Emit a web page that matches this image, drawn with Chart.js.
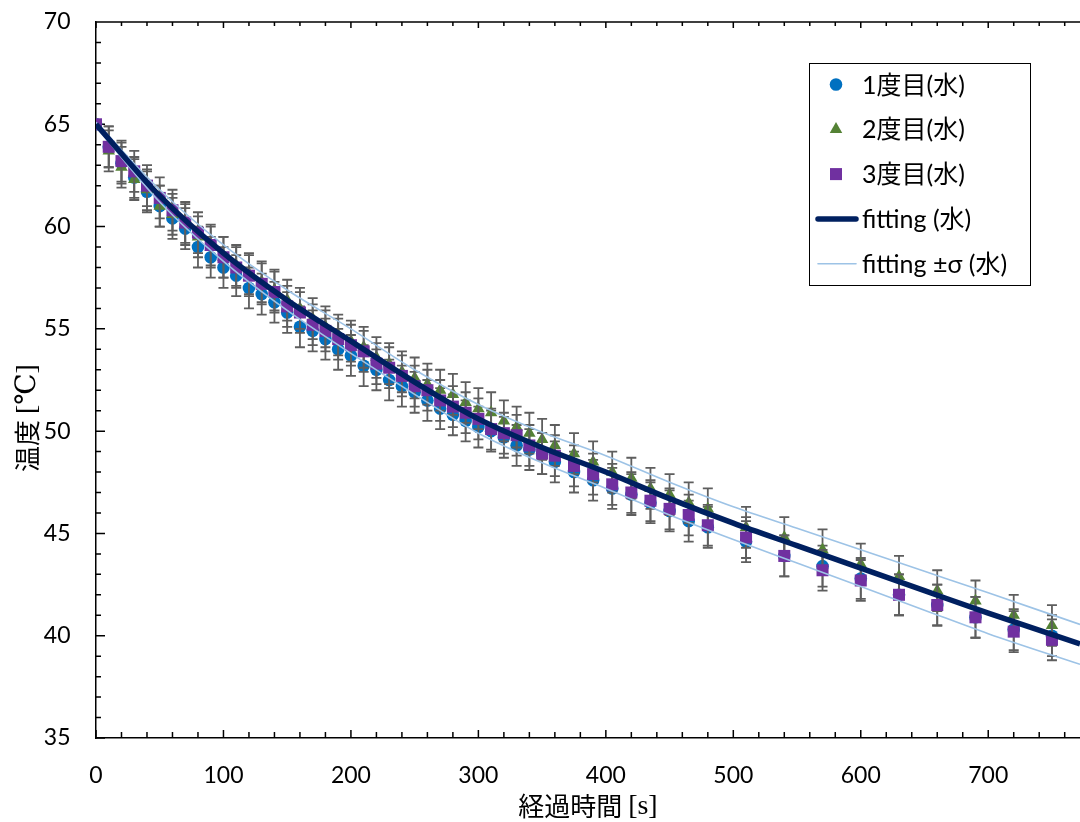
<!DOCTYPE html>
<html>
<head>
<meta charset="utf-8">
<script src="https://cdn.jsdelivr.net/npm/chart.js@4.4.1/dist/chart.umd.min.js"></script>
<style>
  body { margin: 0; background: #fff; }
</style>
</head>
<body>
<canvas id="myChart" width="1080" height="822"></canvas>
<script>
// elapsed time of each reading [s]
const times = [0, 10, 20, 30, 40, 50, 60, 70, 80, 90, 100, 110, 120, 130, 140, 150, 160, 170, 180, 190,
  200, 210, 220, 230, 240, 250, 260, 270, 280, 290, 300, 310, 320, 330, 340, 350, 360,
  375, 390, 405, 420, 435, 450, 465, 480, 510, 540, 570, 600, 630, 660, 690, 720, 750];

// temperature readings [℃]
const run1 = [65.0, 63.9, 63.1, 62.4, 61.7, 61.0, 60.4, 59.9, 59.0, 58.5, 58.0, 57.6, 57.0, 56.7, 56.3, 55.8, 55.1, 54.9, 54.5, 54.0,
  53.7, 53.2, 53.0, 52.5, 52.2, 51.9, 51.5, 51.1, 50.8, 50.5, 50.2, 50.0, 49.7, 49.3, 49.1, 48.9, 48.5,
  48.0, 47.6, 47.2, 46.9, 46.5, 46.1, 45.6, 45.3, 44.6, 43.9, 43.4, 42.8, 42.0, 41.5, 40.9, 40.3, 40.0];
const run2 = [65.0, 63.7, 62.9, 62.3, 61.8, 61.0, 60.6, 60.1, 59.5, 59.0, 58.5, 58.1, 57.7, 57.3, 56.9, 56.4, 56.0, 55.5, 55.1, 54.7,
  54.4, 54.1, 53.6, 53.3, 52.9, 52.6, 52.3, 52.0, 51.8, 51.4, 51.1, 50.9, 50.5, 50.2, 49.9, 49.6, 49.3,
  48.9, 48.5, 48.0, 47.7, 47.2, 46.9, 46.5, 46.2, 45.3, 44.8, 44.2, 43.5, 42.9, 42.2, 41.7, 41.0, 40.5];
const run3 = [65.0, 63.9, 63.2, 62.7, 62.0, 61.4, 60.8, 60.2, 59.7, 59.1, 58.5, 58.0, 57.6, 57.2, 56.8, 56.1, 55.8, 55.2, 54.9, 54.5,
  54.2, 53.9, 53.3, 53.1, 52.7, 52.2, 52.0, 51.5, 51.2, 50.9, 50.6, 50.1, 49.9, 49.8, 49.3, 48.9, 48.8,
  48.3, 47.9, 47.4, 47.0, 46.6, 46.2, 45.9, 45.4, 44.8, 43.9, 43.2, 42.7, 42.0, 41.5, 40.9, 40.2, 39.8];
const errorBar = 1.0;     // ± ℃
const errorFrom = 10;     // the starting point has no bar

// fitting curve and its ±σ band
const fitTimes = [0, 50, 100, 150, 200, 250, 300, 350, 400, 450, 500, 550, 600, 650, 700, 772];
const fitLine  = [65.0, 61.5, 58.7, 56.4, 54.4, 52.4, 50.6, 49.2, 48.0, 46.7, 45.5, 44.4, 43.3, 42.2, 41.1, 39.6];
const fitUpper = [65.1, 61.8, 59.1, 56.9, 55.0, 53.0, 51.3, 49.95, 48.8, 47.5, 46.3, 45.25, 44.2, 43.15, 42.1, 40.55];
const fitLower = [64.9, 61.2, 58.3, 55.9, 53.8, 51.8, 49.9, 48.45, 47.2, 45.9, 44.7, 43.55, 42.4, 41.25, 40.1, 38.6];

const labels = ['1度目(水)', '2度目(水)', '3度目(水)', 'fitting (水)', 'fitting ±σ (水)'];

const xMin = 0, xMax = 772, xStep = 100, xMinor = 20;
const yMin = 35, yMax = 70, yStep = 5, yMinor = 1;

const FONT = 'Lato, "Noto Sans CJK JP", sans-serif';
Chart.defaults.font.family = FONT;
Chart.defaults.color = '#000';

function pts(xs, ys) {
  return xs.map((x, i) => ({ x: x, y: ys[i] }));
}

// error bars drawn just before each marker series
const errorBars = {
  id: 'errorBars',
  beforeDatasetDraw(chart, args) {
    const ds = chart.data.datasets[args.index];
    if (!ds.errorBar) return;
    const { ctx, scales: { x, y } } = chart;
    ctx.save();
    ctx.strokeStyle = '#5e5e5e';
    ctx.lineWidth = 1.8;
    ctx.beginPath();
    ds.data.forEach(p => {
      if (p.x < errorFrom) return;
      const px = x.getPixelForValue(p.x);
      const top = y.getPixelForValue(p.y + ds.errorBar);
      const bot = y.getPixelForValue(p.y - ds.errorBar);
      ctx.moveTo(px, top); ctx.lineTo(px, bot);
      ctx.moveTo(px - 5, top); ctx.lineTo(px + 5, top);
      ctx.moveTo(px - 5, bot); ctx.lineTo(px + 5, bot);
    });
    ctx.stroke();
    ctx.restore();
  }
};

// inward tick marks + top frame line
const axisTicks = {
  id: 'axisTicks',
  beforeDatasetsDraw(chart) {
    const { ctx, chartArea: a, scales: { x, y } } = chart;
    ctx.save();
    ctx.strokeStyle = '#000';
    ctx.lineWidth = 1.5;
    ctx.beginPath();
    ctx.moveTo(a.left, a.top); ctx.lineTo(a.right, a.top);
    for (let v = xMin; v <= xMax; v += xMinor) {
      const px = x.getPixelForValue(v);
      const major = v % xStep === 0;
      ctx.moveTo(px, a.bottom); ctx.lineTo(px, a.bottom - (major ? 8 : 6));
      ctx.moveTo(px, a.top); ctx.lineTo(px, a.top + (major ? 6 : 4));
    }
    for (let v = yMin; v <= yMax; v += yMinor) {
      const py = y.getPixelForValue(v);
      const major = v % yStep === 0;
      ctx.moveTo(a.left, py); ctx.lineTo(a.left + (major ? 9 : 5), py);
    }
    ctx.stroke();
    ctx.restore();
  }
};

function marker(ctx, style, cx, cy, r) {
  ctx.beginPath();
  if (style === 'circle') {
    ctx.arc(cx, cy, r, 0, Math.PI * 2);
  } else if (style === 'triangle') {
    ctx.moveTo(cx, cy - r);
    ctx.lineTo(cx + r * Math.sin(Math.PI * 2 / 3), cy + r * 0.5);
    ctx.lineTo(cx - r * Math.sin(Math.PI * 2 / 3), cy + r * 0.5);
    ctx.closePath();
  } else {
    const s = r * Math.SQRT1_2;
    ctx.rect(cx - s, cy - s, 2 * s, 2 * s);
  }
  ctx.fill();
}

// legend box + axis titles
const decorations = {
  id: 'decorations',
  afterDraw(chart) {
    const ctx = chart.ctx;
    const a = chart.chartArea;
    ctx.save();

    // legend
    const bx = 809.5, by = 63.5, bw = 221, bh = 222;
    ctx.fillStyle = '#fff';
    ctx.fillRect(bx, by, bw, bh);
    ctx.strokeStyle = '#000';
    ctx.lineWidth = 1;
    ctx.strokeRect(bx, by, bw, bh);
    const items = chart.data.datasets.filter(d => d.inLegend);
    items.forEach((d, i) => {
      const cy = 84.5 + i * 44.8;
      if (d.showLine) {
        ctx.strokeStyle = d.borderColor;
        ctx.lineWidth = d.borderWidth;
        ctx.lineCap = 'round';
        ctx.beginPath();
        ctx.moveTo(818, cy); ctx.lineTo(856, cy);
        ctx.stroke();
      } else {
        ctx.fillStyle = d.backgroundColor;
        marker(ctx, d.pointStyle, 836, cy, d.pointRadius);
      }
      ctx.fillStyle = '#000';
      ctx.font = '25px ' + FONT;
      ctx.textAlign = 'left';
      ctx.textBaseline = 'middle';
      ctx.fillText(d.label, 862, cy + 1);
    });

    // axis titles: CJK part in gothic, unit part in serif
    const cjk = '26px "Noto Sans CJK JP"';
    const serif = '28px "Liberation Serif", "DejaVu Serif", serif';
    function mixed(t1, t2, cx, cy) {
      ctx.font = cjk;
      const w1 = ctx.measureText(t1).width;
      ctx.font = serif;
      const w2 = ctx.measureText(t2).width;
      const x0 = cx - (w1 + w2) / 2;
      ctx.textAlign = 'left';
      ctx.textBaseline = 'middle';
      ctx.fillStyle = '#000';
      ctx.font = cjk;
      ctx.fillText(t1, x0, cy);
      ctx.font = serif;
      ctx.fillText(t2, x0 + w1, cy + 1);
    }
    mixed('経過時間 ', '[s]', (a.left + a.right) / 2, 806);
    ctx.save();
    ctx.translate(27, 418);
    ctx.rotate(-Math.PI / 2);
    mixed('温度 ', '[℃]', 0, 0);
    ctx.restore();

    ctx.restore();
  }
};

function noOverhang(s) {
  s.paddingLeft = 0; s.paddingRight = 0; s.paddingTop = 0; s.paddingBottom = 0;
}

const ctx = document.getElementById('myChart');
const chart = new Chart(ctx, {
  type: 'scatter',
  data: {
    datasets: [
      {
        label: labels[0], data: pts(times, run1), inLegend: true,
        pointStyle: 'circle', pointRadius: 6.3, backgroundColor: '#0070C0', borderWidth: 0,
        errorBar: errorBar, order: 4
      },
      {
        label: labels[1], data: pts(times, run2), inLegend: true,
        pointStyle: 'triangle', pointRadius: 7.2, backgroundColor: '#548235', borderWidth: 0,
        errorBar: errorBar, order: 3
      },
      {
        label: labels[2], data: pts(times, run3), inLegend: true,
        pointStyle: 'rect', pointRadius: 8.5, backgroundColor: '#7030A0', borderWidth: 0,
        errorBar: errorBar, order: 2
      },
      {
        label: labels[3], data: pts(fitTimes, fitLine), inLegend: true,
        showLine: true, borderColor: '#002060', borderWidth: 5.5, pointRadius: 0,
        cubicInterpolationMode: 'monotone', order: 0
      },
      {
        label: labels[4], data: pts(fitTimes, fitUpper), inLegend: true,
        showLine: true, borderColor: '#9DC3E6', borderWidth: 1.6, pointRadius: 0,
        cubicInterpolationMode: 'monotone', order: 1
      },
      {
        label: labels[4], data: pts(fitTimes, fitLower), inLegend: false,
        showLine: true, borderColor: '#9DC3E6', borderWidth: 1.6, pointRadius: 0,
        cubicInterpolationMode: 'monotone', order: 1
      }
    ]
  },
  options: {
    responsive: false,
    animation: false,
    devicePixelRatio: 1,
    layout: { autoPadding: false, padding: { top: 22, right: 0, left: 0, bottom: 0 } },
    plugins: {
      legend: { display: false },
      tooltip: { enabled: false }
    },
    scales: {
      x: {
        type: 'linear', min: xMin, max: xMax,
        ticks: { stepSize: xStep, includeBounds: false, padding: 24, maxRotation: 0, font: { size: 23 } },
        grid: { display: false, drawTicks: false },
        border: { display: true, color: '#000', width: 1.5 },
        afterFit: s => { s.height = 84; noOverhang(s); }
      },
      y: {
        min: yMin, max: yMax,
        ticks: { stepSize: yStep, padding: 25.5, font: { size: 23 } },
        grid: { display: false, drawTicks: false },
        border: { display: true, color: '#000', width: 1.5 },
        afterFit: s => { s.width = 96; noOverhang(s); }
      }
    }
  },
  plugins: [errorBars, axisTicks, decorations]
});
</script>
</body>
</html>
